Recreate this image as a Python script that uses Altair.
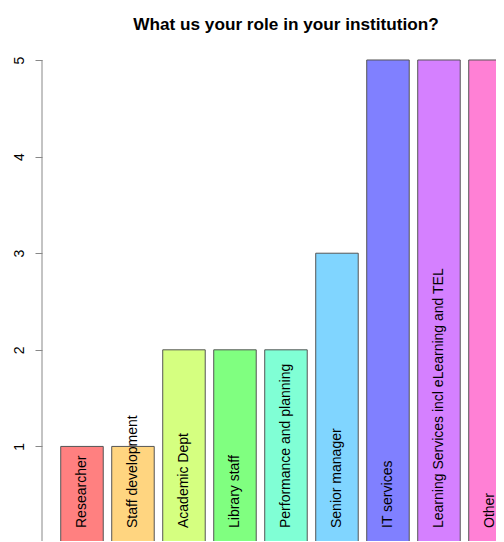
import altair as alt
import pandas as pd

roles = ["Researcher", "Staff development", "Academic Dept", "Library staff",
         "Performance and planning", "Senior manager", "IT services",
         "Learning Services incl eLearning and TEL", "Other"]
counts = [1, 1, 2, 2, 2, 3, 5, 5, 5]
colors = ["#FF8080", "#FFD580", "#D5FF80", "#80FF80", "#80FFD5",
          "#80D5FF", "#8080FF", "#D580FF", "#FF80D5"]

df = pd.DataFrame({"role": roles, "count": counts, "idx": list(range(len(roles)))})

FONT = "Liberation Sans"
xscale = alt.Scale(domain=[-0.784, 8.275], nice=False, zero=False)
yscale = alt.Scale(domain=[0.021, 5.207], nice=False, zero=False)

base = alt.Chart(df)

bars = base.transform_calculate(
    x0="datum.idx - 0.4167", x1="datum.idx + 0.4167"
).mark_bar(stroke="#555555", strokeWidth=1, clip=True).encode(
    x=alt.X("x0:Q", scale=xscale, axis=None),
    x2="x1:Q",
    y=alt.Y("count:Q", scale=yscale,
            axis=alt.Axis(values=[1, 2, 3, 4, 5], format="d", domain=False, grid=False,
                          tickSize=7, tickColor="#888888", tickWidth=1,
                          labelAngle=270, labelAlign="center",
                          labelBaseline="alphabetic", labelPadding=12,
                          labelFont=FONT, labelFontSize=14, labelColor="#000000",
                          title=None)),
    y2=alt.datum(0),
    color=alt.Color("role:N", scale=alt.Scale(domain=roles, range=colors), legend=None),
)

labels = base.mark_text(angle=270, align="left", baseline="middle",
                        font=FONT, fontSize=14, color="#000000", clip=True).encode(
    x=alt.X("idx:Q", scale=xscale, axis=None),
    y=alt.value(488),
    text="role:N",
)

axis_line = alt.Chart(pd.DataFrame({"a": [0]})).mark_rule(
    color="#888888", strokeWidth=1).encode(
    x=alt.value(0),
    y=alt.datum(5, scale=yscale),
    y2=alt.datum(0),
)

chart = alt.layer(bars, labels, axis_line).properties(
    width=462, height=501,
    title=alt.TitleParams("What us your role in your institution?", font=FONT,
                          fontSize=17.2, fontWeight="bold", color="#000000",
                          anchor="middle", dx=13, offset=-7, baseline="alphabetic"),
    autosize=alt.AutoSizeParams(type="none"),
    padding={"left": 34, "top": 32, "right": -8, "bottom": 0},
).configure_view(stroke=None)

chart.save("out.html", embed_options={"renderer": "svg", "actions": False})
